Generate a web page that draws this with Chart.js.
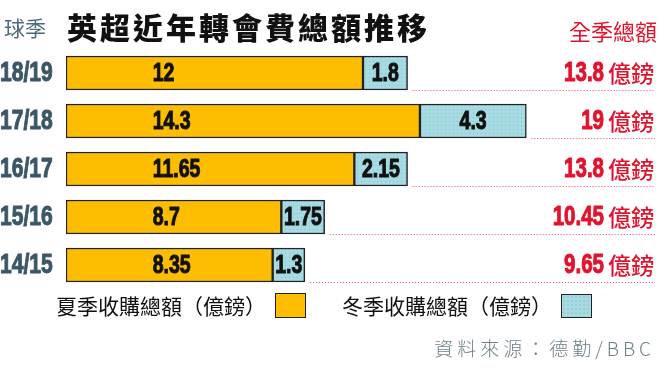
<!DOCTYPE html>
<html>
<head>
<meta charset="utf-8">
<script src="https://cdn.jsdelivr.net/npm/chart.js@4/dist/chart.umd.min.js"></script>
<style>
  body { margin: 0; background: #fff; }
  #wrap { position: relative; width: 661px; height: 368px; overflow: hidden; }
  #chart { position: absolute; left: 0; top: 0; }
  .t { position: absolute; white-space: nowrap; font-family: "Noto Sans CJK TC", "Noto Sans", sans-serif; }
  .box { position: absolute; border: 1.5px solid #222; box-sizing: border-box; }
</style>
</head>
<body>
<div id="wrap">
  <canvas id="chart" width="661" height="368"></canvas>
  <div class="t" style="left:4px;top:12px;font-size:21px;color:#4d6b78;">球季</div>
  <div class="t" style="left:67px;top:4px;font-size:30px;font-weight:900;letter-spacing:3px;color:#111;">英超近年轉會費總額推移</div>
  <div class="t" style="right:4px;top:14px;font-size:22px;color:#e3122d;">全季總額</div>
  <div class="t" style="left:56px;top:290px;font-size:21px;color:#111;">夏季收購總額（億鎊）</div>
  <div class="box" style="left:275px;top:293px;width:31px;height:25px;background:#fdbd00;"></div>
  <div class="t" style="left:342px;top:290px;font-size:21px;color:#111;">冬季收購總額（億鎊）</div>
  <div class="box" id="winterBox" style="left:561px;top:294px;width:31px;height:24px;background:#a6dbe3;"></div>
  <div class="t" style="right:6px;top:334px;font-size:19px;font-weight:300;letter-spacing:4px;color:#6d7f88;">資料來源：德勤/BBC</div>
</div>
<script>
const seasons = ['18/19', '17/18', '16/17', '15/16', '14/15'];
const summerValues = [12, 14.3, 11.65, 8.7, 8.35];
const winterValues = [1.8, 4.3, 2.15, 1.75, 1.3];
const totalValues = [13.8, 19, 13.8, 10.45, 9.65];
const totalUnit = '億鎊';

// dotted light blue fill like the print graphic
function dotPattern() {
    const c = document.createElement('canvas');
    c.width = 4; c.height = 4;
    const g = c.getContext('2d');
    g.fillStyle = '#a6dbe3';
    g.fillRect(0, 0, 4, 4);
    g.fillStyle = '#86bfc9';
    g.fillRect(1, 1, 1, 1);
    return g.createPattern(c, 'repeat');
}
const winterFill = dotPattern();

// no condensed font installed, so squeeze a bold sans horizontally
function narrowText(ctx, text, x, y, size, align, sx) {
    ctx.save();
    ctx.font = 'bold ' + size + 'px "Liberation Sans", Arial, sans-serif';
    ctx.textBaseline = 'middle';
    ctx.textAlign = align;
    ctx.translate(x, y);
    ctx.scale(sx, 1);
    ctx.fillText(text, 0, 0);
    ctx.strokeStyle = ctx.fillStyle;
    ctx.lineWidth = 1;
    ctx.strokeText(text, 0, 0);
    ctx.restore();
}

const labelPlugin = {
    id: 'labels',
    afterDatasetsDraw(chart) {
        const ctx = chart.ctx;
        const x = chart.scales.x;
        const summerMeta = chart.getDatasetMeta(0);
        const winterMeta = chart.getDatasetMeta(1);
        ctx.save();
        seasons.forEach((s, i) => {
            const sb = summerMeta.data[i];
            const wb = winterMeta.data[i];
            const y = sb.y;
            const bottom = y + sb.height / 2;

            ctx.fillStyle = '#3b5767';
            narrowText(ctx, s, 0, y + 1, 27, 'left', 0.78);

            ctx.fillStyle = '#111';
            narrowText(ctx, String(summerValues[i]), x.getPixelForValue(3.5), y + 1, 25, 'left', 0.78);
            narrowText(ctx, String(winterValues[i]), (sb.x + wb.x) / 2, y + 1, 25, 'center', 0.78);

            // dotted guide
            ctx.strokeStyle = '#e2435c';
            ctx.lineWidth = 1;
            ctx.setLineDash([1, 2]);
            ctx.beginPath();
            ctx.moveTo(wb.x + 5, bottom + 0.5);
            ctx.lineTo(655, bottom + 0.5);
            ctx.stroke();
            ctx.setLineDash([]);

            // total
            ctx.fillStyle = '#e3122d';
            ctx.textAlign = 'right';
            ctx.textBaseline = 'middle';
            ctx.font = '500 23px "Noto Sans CJK TC", sans-serif';
            const unitW = ctx.measureText(totalUnit).width;
            ctx.fillText(totalUnit, 654, y);
            narrowText(ctx, String(totalValues[i]), 654 - unitW - 4, y + 1, 27, 'right', 0.76);
        });
        ctx.restore();
    }
};

new Chart(document.getElementById('chart'), {
    type: 'bar',
    data: {
        labels: seasons,
        datasets: [{
            label: '夏季收購總額（億鎊）',
            data: summerValues,
            backgroundColor: '#fdbd00',
            borderColor: '#222',
            borderWidth: 1.5,
            borderSkipped: false,
            barThickness: 34
        }, {
            label: '冬季收購總額（億鎊）',
            data: winterValues,
            backgroundColor: winterFill,
            borderColor: '#222',
            borderWidth: 1.5,
            borderSkipped: false,
            barThickness: 34
        }]
    },
    options: {
        indexAxis: 'y',
        responsive: false,
        animation: false,
        layout: { padding: { left: 66, right: 1, top: 49, bottom: 79 } },
        scales: {
            x: { stacked: true, min: 0, max: 24, display: false },
            y: { stacked: true, display: false }
        },
        plugins: { legend: { display: false }, tooltip: { enabled: false } }
    },
    plugins: [labelPlugin]
});

const wbox = document.getElementById('winterBox');
wbox.style.backgroundImage = 'radial-gradient(#86bfc9 0.6px, transparent 0.8px)';
wbox.style.backgroundSize = '4px 4px';
</script>
</body>
</html>
